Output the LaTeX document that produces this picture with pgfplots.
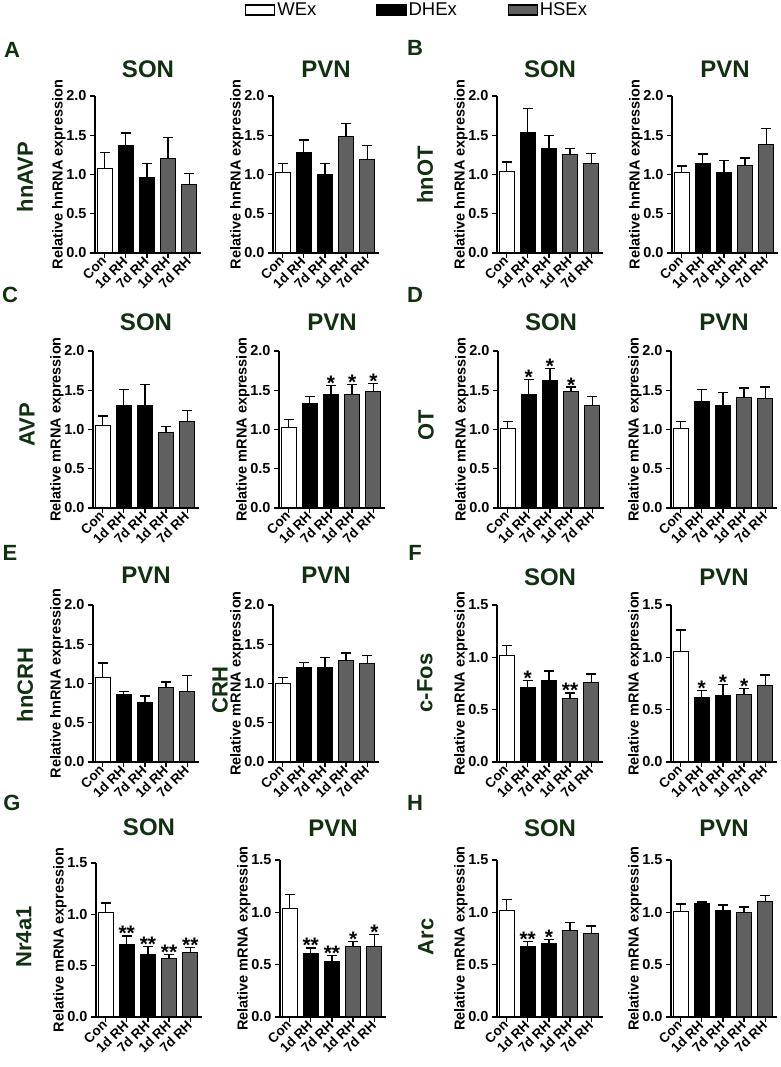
\documentclass[border=0pt]{standalone}
\usepackage{fontspec}
\setmainfont{Liberation Sans}
\usepackage{pgfplots}
\pgfplotsset{compat=1.18}
\definecolor{dkg}{RGB}{16,48,16}
\definecolor{hsgray}{RGB}{96,96,96}

\pgfplotsset{
  errb/.style={error bars/.cd, y dir=plus, y explicit,
    error bar style={line width=1.3pt, black},
    error mark options={rotate=90, mark size=5pt, line width=1.3pt, black}},
  wex/.style={ybar, bar width=15pt, bar shift=0pt, fill=white, draw=black, line width=1pt, errb},
  dhex/.style={ybar, bar width=15pt, bar shift=0pt, fill=black, draw=black, line width=1pt, errb},
  hsex/.style={ybar, bar width=15pt, bar shift=0pt, fill=hsgray, draw=black, line width=1pt, errb},
  stars/.style={only marks, mark=*, mark size=0pt, mark options={draw=none, fill=none},
    nodes near coords, point meta=explicit symbolic,
    nodes near coords style={anchor=base, yshift=-5pt, inner sep=0pt, font=\bfseries\fontsize{21}{21}\selectfont}},
  bp/.style={
    scale only axis, width=106pt, height=157pt, anchor=south west,
    xmin=-0.45, xmax=4.55, ymin=0,
    axis x line*=bottom, axis y line*=left,
    axis line style={line width=1.3pt, black},
    tick align=outside, major tick length=5pt,
    every tick/.style={line width=1.3pt, black},
    xtick={0,1,2,3,4},
    xticklabels={Con,1d RH,7d RH,1d RH,7d RH},
    xticklabel style={rotate=45, anchor=east, inner sep=1pt, font=\bfseries\fontsize{13.5}{14}\selectfont},
    ytick distance=0.5,
    /pgf/number format/assume math mode=true,
    yticklabel style={font=\bfseries\fontsize{14.5}{15}\selectfont,
      /pgf/number format/fixed, /pgf/number format/fixed zerofill, /pgf/number format/precision=1},
    ylabel style={at={(axis description cs:-0.34,0.5)}, anchor=center, font=\bfseries\fontsize{14.5}{15}\selectfont},
    title style={at={(axis description cs:0.5,1)}, anchor=center,
      font=\bfseries\fontsize{24}{26}\selectfont, text=dkg},
    clip=false,
  },
}
\tikzset{gene/.style={rotate=90, font=\bfseries\fontsize{22}{24}\selectfont, text=dkg},
  letter/.style={font=\bfseries\fontsize{22}{24}\selectfont, text=dkg}}

\begin{document}
\begin{tikzpicture}
\useasboundingbox (0,0) rectangle (780pt,1067pt);

% ---------------- Row 1 ----------------
\begin{axis}[bp, at={(95pt,814pt)}, ymax=2, title={SON}, ylabel={Relative hnRNA expression},
  title style={yshift=21pt},
  legend style={at={(axis description cs:1.415,1.548)}, anchor=west, draw=none, fill=none,
    inner sep=0pt, font=\fontsize{18.5}{19}\selectfont, legend columns=3,
    /tikz/every even column/.append style={column sep=45pt}},
  legend cell align=left]
\addlegendimage{legend image code/.code={\draw[fill=white,draw=black,line width=1.2pt] (0pt,-5pt) rectangle (29pt,5pt);}}
\addlegendentry{\makebox[52pt][l]{WEx}}
\addlegendimage{legend image code/.code={\draw[fill=black,draw=black,line width=1.2pt] (0pt,-5pt) rectangle (29pt,5pt);}}
\addlegendentry{\makebox[52pt][l]{DHEx}}
\addlegendimage{legend image code/.code={\draw[fill=hsgray,draw=black,line width=1.2pt] (0pt,-5pt) rectangle (29pt,5pt);}}
\addlegendentry{\makebox[52pt][l]{HSEx}}
\addplot[wex] coordinates {(0,1.08) +- (0,0.20)};
\addplot[dhex] coordinates {(1,1.37) +- (0,0.16) (2,0.96) +- (0,0.18)};
\addplot[hsex] coordinates {(3,1.21) +- (0,0.26) (4,0.87) +- (0,0.14)};
\end{axis}

\begin{axis}[bp, at={(273pt,814pt)}, ymax=2, title={PVN}, ylabel={Relative hnRNA expression}, title style={yshift=21pt}]
\addplot[wex] coordinates {(0,1.03) +- (0,0.11)};
\addplot[dhex] coordinates {(1,1.28) +- (0,0.16) (2,1.00) +- (0,0.14)};
\addplot[hsex] coordinates {(3,1.49) +- (0,0.16) (4,1.19) +- (0,0.18)};
\end{axis}

\begin{axis}[bp, at={(497pt,814pt)}, ymax=2, title={SON}, ylabel={Relative hnRNA expression}, title style={yshift=21pt}]
\addplot[wex] coordinates {(0,1.04) +- (0,0.12)};
\addplot[dhex] coordinates {(1,1.53) +- (0,0.31) (2,1.33) +- (0,0.17)};
\addplot[hsex] coordinates {(3,1.25) +- (0,0.08) (4,1.14) +- (0,0.13)};
\end{axis}

\begin{axis}[bp, at={(672pt,814pt)}, ymax=2, title={PVN}, ylabel={Relative hnRNA expression}, title style={yshift=21pt}]
\addplot[wex] coordinates {(0,1.02) +- (0,0.09)};
\addplot[dhex] coordinates {(1,1.14) +- (0,0.12) (2,1.03) +- (0,0.15)};
\addplot[hsex] coordinates {(3,1.12) +- (0,0.09) (4,1.38) +- (0,0.21)};
\end{axis}

% ---------------- Row 2 ----------------
\begin{axis}[bp, at={(93pt,559pt)}, ymax=2, title={SON}, ylabel={Relative mRNA expression}, title style={yshift=23pt}]
\addplot[wex] coordinates {(0,1.05) +- (0,0.12)};
\addplot[dhex] coordinates {(1,1.30) +- (0,0.21) (2,1.30) +- (0,0.27)};
\addplot[hsex] coordinates {(3,0.96) +- (0,0.08) (4,1.10) +- (0,0.14)};
\end{axis}

\begin{axis}[bp, at={(279pt,559pt)}, ymax=2, title={PVN}, ylabel={Relative mRNA expression}, title style={yshift=23pt}]
\addplot[wex] coordinates {(0,1.03) +- (0,0.10)};
\addplot[dhex] coordinates {(1,1.33) +- (0,0.09) (2,1.45) +- (0,0.11)};
\addplot[hsex] coordinates {(3,1.45) +- (0,0.12) (4,1.49) +- (0,0.10)};
\addplot[stars] coordinates {(2,1.56) [*] (3,1.57) [*] (4,1.59) [*]};
\end{axis}

\begin{axis}[bp, at={(498pt,559pt)}, ymax=2, title={SON}, ylabel={Relative mRNA expression}, title style={yshift=23pt}]
\addplot[wex] coordinates {(0,1.01) +- (0,0.09)};
\addplot[dhex] coordinates {(1,1.45) +- (0,0.19) (2,1.62) +- (0,0.16)};
\addplot[hsex] coordinates {(3,1.48) +- (0,0.06) (4,1.30) +- (0,0.12)};
\addplot[stars] coordinates {(1,1.64) [*] (2,1.78) [*] (3,1.54) [*]};
\end{axis}

\begin{axis}[bp, at={(671pt,559pt)}, ymax=2, title={PVN}, ylabel={Relative mRNA expression}, title style={yshift=23pt}]
\addplot[wex] coordinates {(0,1.01) +- (0,0.09)};
\addplot[dhex] coordinates {(1,1.36) +- (0,0.15) (2,1.31) +- (0,0.16)};
\addplot[hsex] coordinates {(3,1.41) +- (0,0.12) (4,1.40) +- (0,0.14)};
\end{axis}

% ---------------- Row 3 ----------------
\begin{axis}[bp, at={(93pt,305pt)}, ymax=2, title={PVN}, ylabel={Relative hnRNA expression}, title style={yshift=24pt}]
\addplot[wex] coordinates {(0,1.08) +- (0,0.18)};
\addplot[dhex] coordinates {(1,0.86) +- (0,0.04) (2,0.76) +- (0,0.08)};
\addplot[hsex] coordinates {(3,0.95) +- (0,0.07) (4,0.90) +- (0,0.20)};
\end{axis}

\begin{axis}[bp, at={(273pt,305pt)}, ymax=2, title={PVN}, ylabel={Relative mRNA expression}, title style={yshift=24pt}]
\addplot[wex] coordinates {(0,1.00) +- (0,0.08)};
\addplot[dhex] coordinates {(1,1.20) +- (0,0.07) (2,1.21) +- (0,0.12)};
\addplot[hsex] coordinates {(3,1.29) +- (0,0.10) (4,1.26) +- (0,0.10)};
\end{axis}

\begin{axis}[bp, at={(497pt,305pt)}, ymax=1.5, title={SON}, ylabel={Relative mRNA expression}, title style={yshift=22pt}]
\addplot[wex] coordinates {(0,1.02) +- (0,0.09)};
\addplot[dhex] coordinates {(1,0.71) +- (0,0.07) (2,0.78) +- (0,0.09)};
\addplot[hsex] coordinates {(3,0.61) +- (0,0.05) (4,0.76) +- (0,0.08)};
\addplot[stars] coordinates {(1,0.78) [*] (3,0.66) [**]};
\end{axis}

\begin{axis}[bp, at={(671pt,305pt)}, ymax=1.5, title={PVN}, ylabel={Relative mRNA expression}, title style={yshift=22pt}]
\addplot[wex] coordinates {(0,1.06) +- (0,0.20)};
\addplot[dhex] coordinates {(1,0.62) +- (0,0.06) (2,0.64) +- (0,0.10)};
\addplot[hsex] coordinates {(3,0.645) +- (0,0.06) (4,0.73) +- (0,0.10)};
\addplot[stars] coordinates {(1,0.68) [*] (2,0.74) [*] (3,0.705) [*]};
\end{axis}

% ---------------- Row 4 ----------------
\begin{axis}[bp, at={(96pt,50pt)}, height=154pt, ymax=1.5, title={SON}, ylabel={Relative mRNA expression}, title style={yshift=30pt}]
\addplot[wex] coordinates {(0,1.02) +- (0,0.09)};
\addplot[dhex] coordinates {(1,0.71) +- (0,0.08) (2,0.61) +- (0,0.08)};
\addplot[hsex] coordinates {(3,0.57) +- (0,0.04) (4,0.63) +- (0,0.05)};
\addplot[stars] coordinates {(1,0.79) [**] (2,0.69) [**] (3,0.61) [**] (4,0.68) [**]};
\end{axis}

\begin{axis}[bp, at={(280pt,50pt)}, ymax=1.5, title={PVN}, ylabel={Relative mRNA expression}, title style={yshift=26pt}]
\addplot[wex] coordinates {(0,1.04) +- (0,0.13)};
\addplot[dhex] coordinates {(1,0.61) +- (0,0.05) (2,0.53) +- (0,0.06)};
\addplot[hsex] coordinates {(3,0.675) +- (0,0.045) (4,0.67) +- (0,0.12)};
\addplot[stars] coordinates {(1,0.66) [**] (2,0.59) [**] (3,0.72) [*] (4,0.79) [*]};
\end{axis}

\begin{axis}[bp, at={(497pt,50pt)}, ymax=1.5, title={SON}, ylabel={Relative mRNA expression}, title style={yshift=26pt}]
\addplot[wex] coordinates {(0,1.02) +- (0,0.10)};
\addplot[dhex] coordinates {(1,0.67) +- (0,0.05) (2,0.70) +- (0,0.04)};
\addplot[hsex] coordinates {(3,0.83) +- (0,0.07) (4,0.80) +- (0,0.07)};
\addplot[stars] coordinates {(1,0.72) [**] (2,0.74) [*]};
\end{axis}

\begin{axis}[bp, at={(671pt,50pt)}, ymax=1.5, title={PVN}, ylabel={Relative mRNA expression}, title style={yshift=26pt}]
\addplot[wex] coordinates {(0,1.01) +- (0,0.07)};
\addplot[dhex] coordinates {(1,1.08) +- (0,0.02) (2,1.02) +- (0,0.05)};
\addplot[hsex] coordinates {(3,1.00) +- (0,0.05) (4,1.10) +- (0,0.06)};
\end{axis}

% gene labels
\node[gene] at (25pt,890pt) {hnAVP};
\node[gene] at (425pt,892pt) {hnOT};
\node[gene] at (27pt,642pt) {AVP};
\node[gene] at (426pt,642pt) {OT};
\node[gene] at (25pt,382pt) {hnCRH};
\node[gene] at (220pt,377pt) {CRH};
\node[gene] at (425pt,384pt) {c-Fos};
\node[gene] at (24pt,130pt) {Nr4a1};
\node[gene] at (426pt,130pt) {Arc};
% panel letters
\node[letter] at (12pt,1017pt) {A};
\node[letter] at (415pt,1019pt) {B};
\node[letter] at (10pt,772pt) {C};
\node[letter] at (415pt,772pt) {D};
\node[letter] at (10pt,514pt) {E};
\node[letter] at (415pt,514pt) {F};
\node[letter] at (12pt,264pt) {G};
\node[letter] at (415pt,264pt) {H};
\end{tikzpicture}
\end{document}
